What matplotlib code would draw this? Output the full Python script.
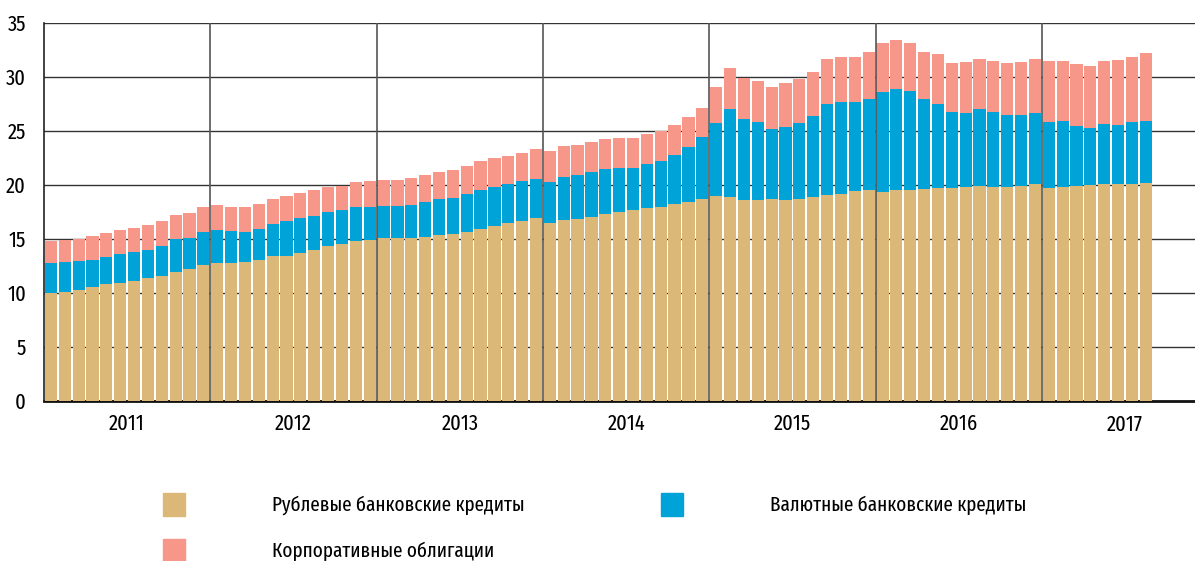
import numpy as np
import matplotlib
matplotlib.use('Agg')
from matplotlib import pyplot as plt
from matplotlib.patches import Rectangle

plt.rcParams['font.family'] = ['Fira Sans Extra Condensed', 'Roboto Condensed', 'DejaVu Sans']

years = ['2011', '2012', '2013', '2014', '2015', '2016', '2017']

# monthly values, Jan 2011 .. Aug 2017
ruble = [10.03, 10.09, 10.28, 10.52, 10.80, 10.90, 11.11, 11.36, 11.57, 11.94, 12.22, 12.59,
         12.78, 12.81, 12.84, 13.09, 13.43, 13.46, 13.70, 14.01, 14.32, 14.57, 14.81, 14.94,
         15.09, 15.06, 15.09, 15.22, 15.37, 15.46, 15.62, 15.93, 16.17, 16.48, 16.70, 16.94,
         16.51, 16.76, 16.82, 17.04, 17.35, 17.53, 17.69, 17.90, 17.96, 18.21, 18.46, 18.70,
         18.95, 18.86, 18.64, 18.61, 18.67, 18.64, 18.70, 18.89, 19.04, 19.20, 19.48, 19.51,
         19.32, 19.54, 19.54, 19.63, 19.72, 19.69, 19.81, 19.91, 19.85, 19.78, 19.88, 20.06,
         19.72, 19.78, 19.91, 19.97, 20.09, 20.09, 20.12, 20.19]
fx = [2.75, 2.78, 2.68, 2.57, 2.53, 2.71, 2.66, 2.65, 2.78, 3.09, 2.90, 3.06,
      3.08, 2.93, 2.81, 2.84, 2.93, 3.21, 3.28, 3.15, 3.21, 3.08, 3.15, 3.05,
      2.97, 2.96, 3.03, 3.18, 3.30, 3.34, 3.52, 3.64, 3.68, 3.61, 3.64, 3.62,
      3.80, 3.98, 4.11, 4.13, 4.13, 4.04, 3.85, 4.08, 4.26, 4.60, 5.06, 5.71,
      6.76, 8.21, 7.47, 7.19, 6.55, 6.76, 7.01, 7.47, 8.46, 8.45, 8.17, 8.42,
      9.29, 9.32, 9.16, 8.30, 7.78, 7.04, 6.86, 7.13, 6.94, 6.70, 6.57, 6.61,
      6.11, 6.12, 5.58, 5.34, 5.53, 5.47, 5.71, 5.74]
bonds = [2.07, 2.04, 2.07, 2.19, 2.23, 2.22, 2.28, 2.29, 2.32, 2.22, 2.26, 2.28,
         2.29, 2.25, 2.28, 2.31, 2.34, 2.34, 2.31, 2.35, 2.28, 2.29, 2.35, 2.38,
         2.37, 2.41, 2.53, 2.53, 2.53, 2.56, 2.65, 2.62, 2.62, 2.63, 2.65, 2.74,
         2.84, 2.90, 2.80, 2.78, 2.78, 2.81, 2.81, 2.74, 2.78, 2.75, 2.75, 2.75,
         3.39, 3.79, 3.83, 3.86, 3.88, 4.01, 4.07, 4.13, 4.17, 4.17, 4.17, 4.35,
         4.51, 4.54, 4.42, 4.38, 4.60, 4.60, 4.69, 4.66, 4.69, 4.85, 4.91, 4.97,
         5.62, 5.61, 5.71, 5.74, 5.86, 6.01, 6.02, 6.32]

labels = ['Рублевые банковские кредиты', 'Валютные банковские кредиты',
          'Корпоративные облигации']
colors = ['#DCB878', '#00A3D7', '#F7978A']

ruble = np.array(ruble)
fx = np.array(fx)
bonds = np.array(bonds)
x = np.arange(len(ruble))

fig = plt.figure(figsize=(11.95, 5.61), dpi=100)
ax = fig.add_axes([44 / 1195, 1 - 401 / 561, 1 - 44 / 1195, (401 - 23) / 561])

w = 0.88
ax.bar(x, ruble, width=w, color=colors[0], zorder=2)
ax.bar(x, fx, width=w, bottom=ruble, color=colors[1], zorder=2)
ax.bar(x, bonds, width=w, bottom=ruble + fx, color=colors[2], zorder=2)

ax.set_ylim(0, 35)
ax.set_xlim(-0.5, 82.55)
ax.set_yticks(range(0, 36, 5))
for v in range(5, 36, 5):
    ax.axhline(v, color='#333333', lw=1.0, zorder=1)
for i in range(1, len(years)):
    ax.axvline(12 * i - 0.5, color='#555555', lw=1.2, zorder=3)

ax.set_xticks([12 * i + 5.5 for i in range(len(years))])
ax.set_xticklabels(years)
ax.tick_params(axis='both', length=0, labelsize=16)
ax.tick_params(axis='x', pad=9)
ax.tick_params(axis='y', pad=13)

for s in ['top', 'right']:
    ax.spines[s].set_visible(False)
ax.spines['left'].set_color('#222222')
ax.spines['left'].set_linewidth(1.2)
ax.spines['bottom'].set_color('#111111')
ax.spines['bottom'].set_linewidth(2)
ax.spines['bottom'].set_zorder(1)

# legend
legend_pos = [(163, 493, 272), (661, 493, 770), (163, 539, 272)]
for (px, py, tx), lab, c in zip(legend_pos, labels, colors):
    fig.add_artist(Rectangle((px / 1195, 1 - (py + 23) / 561), 22 / 1195, 23 / 561,
                             transform=fig.transFigure, color=c))
    fig.text(tx / 1195, 1 - (py + 12) / 561, lab, fontsize=15, va='center', ha='left')

fig.savefig('out.png', dpi=100)
